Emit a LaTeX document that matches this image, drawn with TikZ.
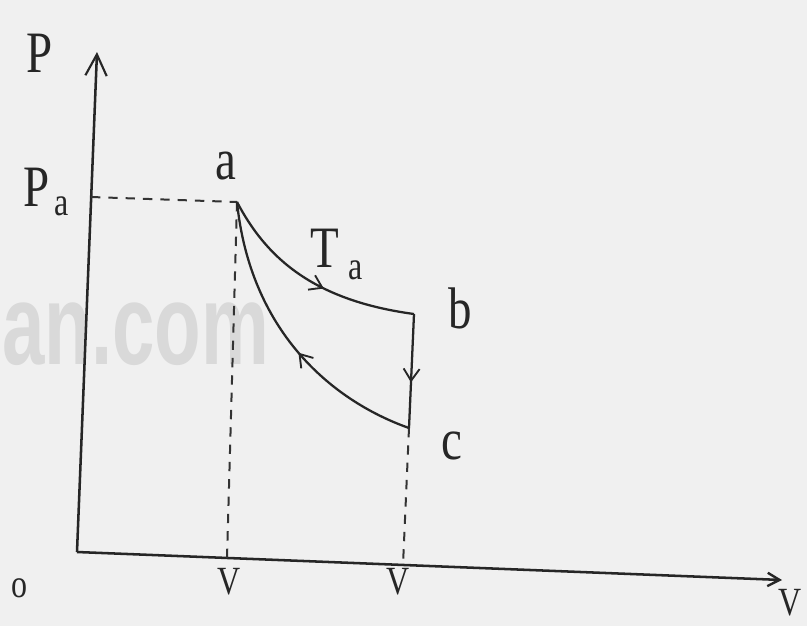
\documentclass[tikz,border=0pt]{standalone}
\usepackage{fontspec}
\setmainfont{Liberation Serif}
\setsansfont{Liberation Sans}
\usetikzlibrary{arrows.meta,decorations.markings}
\begin{document}
\begin{tikzpicture}[x=0.75pt,y=-0.75pt,
  ax/.style={line width=1.9pt, draw=black!85},
  crv/.style={line width=1.7pt, draw=black!85},
  dsh/.style={line width=1.5pt, dash pattern=on 7pt off 6pt, draw=black!80},
  lbl/.style={font=\fontsize{44}{44}\selectfont, inner sep=0pt, xscale=0.8, text=black!85},
  sub/.style={font=\fontsize{30}{30}\selectfont, inner sep=0pt, xscale=0.8, text=black!85},
  wm/.style={font=\sffamily\bfseries\fontsize{86}{86}\selectfont, inner sep=0pt, xscale=0.665, text=black!15},
  midarrow/.style={postaction={decorate,decoration={markings,mark=at position #1 with {\arrow{Straight Barb[length=9pt,width=12pt,line width=1.4pt]}}}}},
]
\fill[black!6] (0,0) rectangle (807,626);
\useasboundingbox (0,0) rectangle (807,626);
% watermark
\node[wm, anchor=base west] (wmark) at (2,364) {an.com};
% points
\coordinate (O) at (77,552);
\coordinate (Ptop) at (97,52);
\coordinate (Vend) at (782,580);
\coordinate (a) at (237,202);
\coordinate (b) at (414,314);
\coordinate (c) at (409,428);
\coordinate (pa) at (91,197);
\coordinate (va) at (227,558);
\coordinate (vc) at (403,565);
% axes
\draw[ax,-{Straight Barb[length=16pt,width=16pt,line width=1.6pt]}] (O) -- (Ptop);
\draw[ax,-{Straight Barb[length=9pt,width=10pt,line width=1.8pt]}] (O) -- (Vend);
% dashed guides
\draw[dsh] (pa) -- (a);
\draw[dsh] (a) -- (va);
\draw[dsh] (c) -- (vc);
% cycle
\draw[crv,midarrow=0.57] (a) .. controls (265,255) and (310,300) .. (b);
\draw[crv,midarrow=0.6] (b) -- (c);
\draw[crv,midarrow=0.45] (c) .. controls (330,400) and (250,330) .. (a);
% labels
\node[lbl] (lP) at (40,53) {P};
\node[lbl] (lPa) at (37,187) {P};
\node[sub] (lPasub) at (62,206) {a};
\node[lbl] (la) at (226,166) {a};
\node[lbl] (lT) at (325,248) {T};
\node[sub] (lTsub) at (356,270) {a};
\node[lbl] (lb) at (460,308) {b};
\node[lbl] (lc) at (452,446) {c};
\node[sub] (lo) at (20,588) {o};
\node[sub] (lv1) at (229,582) {V};
\node[sub] (lv2) at (398,582) {V};
\node[sub] (lv3) at (790,603) {V};
\end{tikzpicture}
\end{document}
